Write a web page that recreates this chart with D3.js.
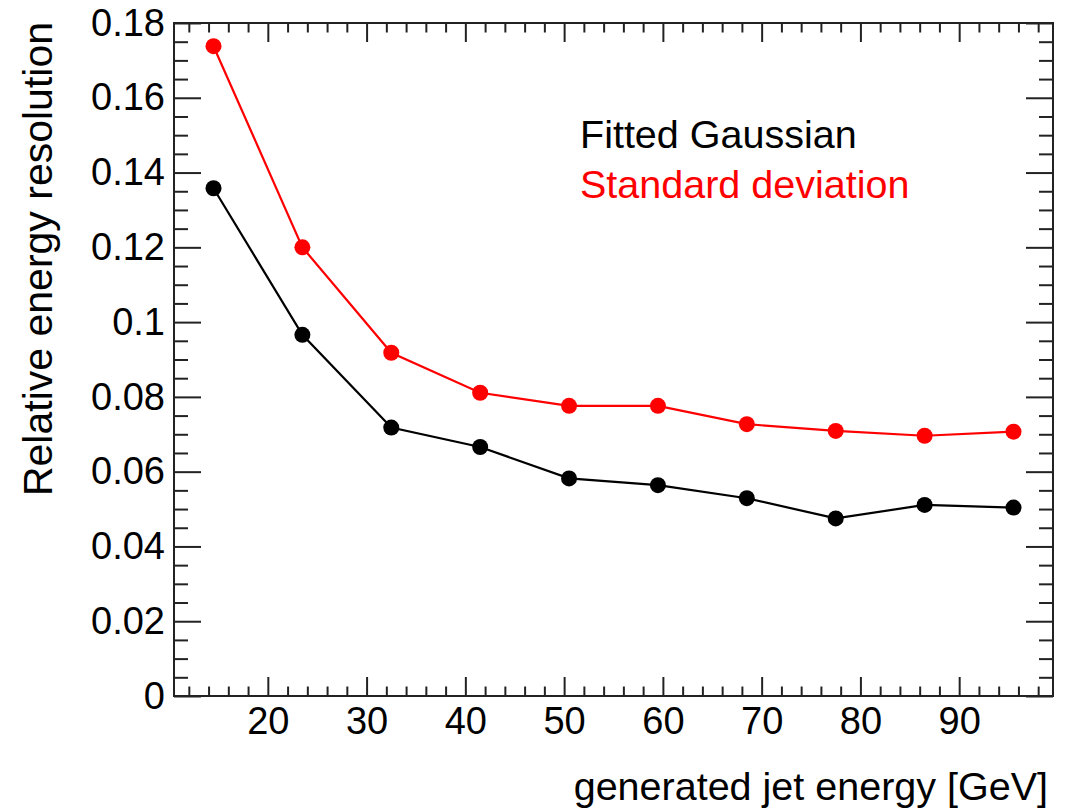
<!DOCTYPE html>
<html>
<head>
<meta charset="utf-8">
<script src="https://cdn.jsdelivr.net/npm/d3@7"></script>
<style>
  html, body { margin: 0; padding: 0; background: #fff; }
  svg { display: block; font-family: "Liberation Sans", Arial, sans-serif; }
</style>
</head>
<body>
<svg id="chart" width="1079" height="812"></svg>
<script>
// ---- data ----
const energies = [14.5, 23.5, 32.5, 41.5, 50.5, 59.5, 68.5, 77.5, 86.5, 95.5];
const fittedGaussian = [0.1358, 0.0966, 0.0718, 0.0666, 0.0582, 0.0564, 0.0529, 0.0475, 0.0511, 0.0504];
const standardDeviation = [0.1738, 0.1200, 0.0918, 0.0811, 0.0776, 0.0776, 0.0727, 0.0709, 0.0696, 0.0707];
const seriesNames = ["Fitted Gaussian", "Standard deviation"];
const seriesColors = ["#000000", "#ff0000"];
const xTickValues = [20, 30, 40, 50, 60, 70, 80, 90];
const xTickLabels = ["20", "30", "40", "50", "60", "70", "80", "90"];
const yTickValues = [0, 0.02, 0.04, 0.06, 0.08, 0.1, 0.12, 0.14, 0.16, 0.18];
const yTickLabels = ["0", "0.02", "0.04", "0.06", "0.08", "0.1", "0.12", "0.14", "0.16", "0.18"];
const xTitle = "generated jet energy [GeV]";
const yTitle = "Relative energy resolution";

// ---- layout ----
const L = 174, R = 1053, T = 23, B = 696;
const svg = d3.select("#chart");
const x = d3.scaleLinear().domain([10.5, 99.5]).range([L, R]);
const y = d3.scaleLinear().domain([0, 0.18]).range([B, T]);

const xMinor = d3.range(12, 99.5, 2).filter(v => !xTickValues.includes(v));
const yMinor = d3.range(0, 36).map(i => i * 0.005).filter((v, i) => i % 4 !== 0);

const axisColor = "#222";
function styleAxis(g) {
  g.select(".domain").remove();
  g.selectAll(".tick line").attr("stroke", axisColor).attr("stroke-width", 2);
}

// bottom axis (major + labels)
const xLabelMap = new Map(xTickValues.map((v, i) => [v, xTickLabels[i]]));
svg.append("g").attr("transform", `translate(0,${B})`)
  .call(d3.axisBottom(x).tickValues(xTickValues).tickSizeInner(-19).tickSizeOuter(0)
    .tickPadding(11).tickFormat(d => xLabelMap.get(d)))
  .call(styleAxis)
  .call(g => g.selectAll("text").attr("font-size", 38).attr("fill", "#000")
    .attr("font-family", "'Liberation Sans', Arial, sans-serif"));
svg.append("g").attr("transform", `translate(0,${B})`)
  .call(d3.axisBottom(x).tickValues(xMinor).tickSizeInner(-9.5).tickSizeOuter(0).tickFormat(""))
  .call(styleAxis);
// top axis
svg.append("g").attr("transform", `translate(0,${T})`)
  .call(d3.axisTop(x).tickValues(xTickValues).tickSizeInner(-19).tickSizeOuter(0).tickFormat(""))
  .call(styleAxis);
svg.append("g").attr("transform", `translate(0,${T})`)
  .call(d3.axisTop(x).tickValues(xMinor).tickSizeInner(-9.5).tickSizeOuter(0).tickFormat(""))
  .call(styleAxis);

// left axis
const yLabelMap = new Map(yTickValues.map((v, i) => [v, yTickLabels[i]]));
svg.append("g").attr("transform", `translate(${L},0)`)
  .call(d3.axisLeft(y).tickValues(yTickValues).tickSizeInner(-27).tickSizeOuter(0)
    .tickPadding(9).tickFormat(d => yLabelMap.get(d)))
  .call(styleAxis)
  .call(g => g.selectAll("text").attr("font-size", 38).attr("fill", "#000")
    .attr("font-family", "'Liberation Sans', Arial, sans-serif"));
svg.append("g").attr("transform", `translate(${L},0)`)
  .call(d3.axisLeft(y).tickValues(yMinor).tickSizeInner(-14).tickSizeOuter(0).tickFormat(""))
  .call(styleAxis);
// right axis
svg.append("g").attr("transform", `translate(${R},0)`)
  .call(d3.axisRight(y).tickValues(yTickValues).tickSizeInner(-27).tickSizeOuter(0).tickFormat(""))
  .call(styleAxis);
svg.append("g").attr("transform", `translate(${R},0)`)
  .call(d3.axisRight(y).tickValues(yMinor).tickSizeInner(-14).tickSizeOuter(0).tickFormat(""))
  .call(styleAxis);

// frame
svg.append("rect").attr("x", L).attr("y", T).attr("width", R - L).attr("height", B - T)
  .attr("fill", "none").attr("stroke", axisColor).attr("stroke-width", 2);

// series
const allSeries = [fittedGaussian, standardDeviation];
const line = d3.line().x((d, i) => x(energies[i])).y(d => y(d));
allSeries.forEach((vals, si) => {
  const g = svg.append("g");
  g.append("path").datum(vals).attr("d", line)
    .attr("fill", "none").attr("stroke", seriesColors[si]).attr("stroke-width", 2.2);
  g.selectAll("circle").data(vals).join("circle")
    .attr("cx", (d, i) => x(energies[i])).attr("cy", d => y(d))
    .attr("r", 8).attr("fill", seriesColors[si]);
});

// legend text
const legendY = [148, 198];
seriesNames.forEach((name, i) => {
  svg.append("text").attr("x", 580).attr("y", legendY[i])
    .attr("font-size", 39.5).attr("fill", seriesColors[i]).text(name);
});

// axis titles
svg.append("text").attr("x", 1048).attr("y", 800).attr("text-anchor", "end")
  .attr("font-size", 39.5).attr("fill", "#000").text(xTitle);
svg.append("text").attr("transform", "translate(52,22) rotate(-90)")
  .attr("text-anchor", "end").attr("font-size", 41).attr("fill", "#000").text(yTitle);
</script>
</body>
</html>
